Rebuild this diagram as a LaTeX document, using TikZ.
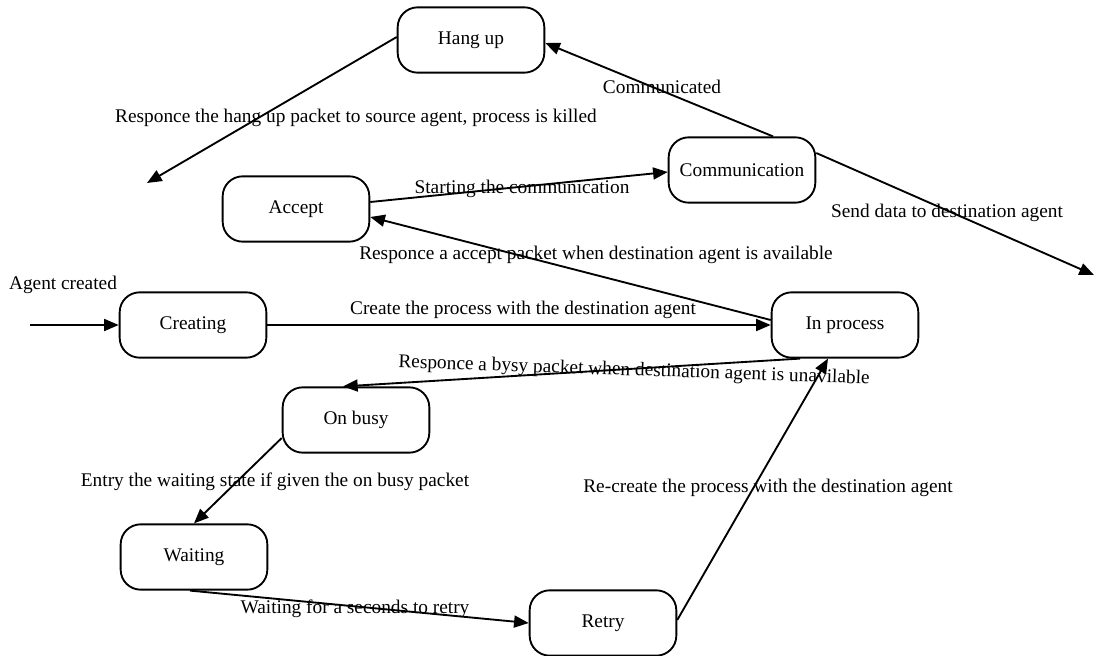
\documentclass[tikz,border=0pt]{standalone}
\usepackage{fontspec}
\setmainfont{Liberation Serif}
\usetikzlibrary{arrows.meta,calc}
\begin{document}
\begin{tikzpicture}[x=0.75pt,y=-0.75pt,
  state/.style={draw, line width=1.4pt, rounded corners=15pt, minimum width=110pt,
    minimum height=49pt, inner sep=0pt, font=\fontsize{14.5}{17}\selectfont},
  lbl/.style={font=\fontsize{14.5}{17}\selectfont, inner sep=0pt},
  arr/.style={line width=1.4pt, -{Triangle[length=11pt,width=9pt]}}]
\useasboundingbox (0,0) rectangle (1096,656);

% states
\node[state] (hang)     at (471,40)  {Hang up};
\node[state] (accept)   at (296,209) {Accept};
\node[state] (comm)     at (742,170) {Communication};
\node[state] (creating) at (193,325) {Creating};
\node[state] (inproc)   at (845,325) {In process};
\node[state] (onbusy)   at (356,420) {On busy};
\node[state] (waiting)  at (194,557) {Waiting};
\node[state] (retry)    at (603,623) {Retry};

% free ends
\coordinate (init)    at (30,325);
\coordinate (source)  at (147,183);
\coordinate (dest)    at (1094,275);

% transitions
\draw[arr] (init) -- (creating.west);
\draw[arr] (creating.east) -- (inproc.west);
\draw[arr] ($(inproc.west)+(0,-5)$) -- ($(accept.east)+(0,8)$);
\draw[arr] ($(accept.east)+(0,-7)$) -- ($(comm.west)+(0,2)$);
\draw[arr] ($(comm.north)+(31,0)$) -- ($(hang.east)+(0,3)$);
\draw[arr] ($(comm.east)+(0,-17)$) -- (dest);
\draw[arr] ($(hang.west)+(0,-3)$) -- (source);
\draw[arr] ($(inproc.south)+(-45,0)$) -- ($(onbusy.north)+(-13,0)$);
\draw[arr] ($(onbusy.west)+(0,18)$) -- (waiting.north);
\draw[arr] ($(waiting.south)+(-4,0)$) -- (retry.west);
\draw[arr] ($(retry.east)+(0,-3)$) -- ($(inproc.south)+(-17,0)$);

% transition labels
\node[lbl] (lkill)   at (356,118) {Responce the hang up packet to source agent, process is killed};
\node[lbl] (lcommd)  at (662,87)  {Communicated};
\node[lbl] (lsend)   at (947,213) {Send data to destination agent};
\node[lbl] (lstart)  at (522,189) {Starting the communication};
\node[lbl] (laccept) at (596,255) {Responce a accept packet when destination agent is available};
\node[lbl] (lagent)  at (63,285)  {Agent created};
\node[lbl] (lcreate) at (523,310) {Create the process with the destination agent};
\node[lbl, rotate=-2] (lbusy) at (634,371) {Responce a bysy packet when destination agent is unavilable};
\node[lbl] (lentry)  at (275,482) {Entry the waiting state if given the on busy packet};
\node[lbl] (lre)     at (768,488) {Re-create the process with the destination agent};
\node[lbl] (lwait)   at (355,609) {Waiting for a seconds to retry};
\end{tikzpicture}
\end{document}
